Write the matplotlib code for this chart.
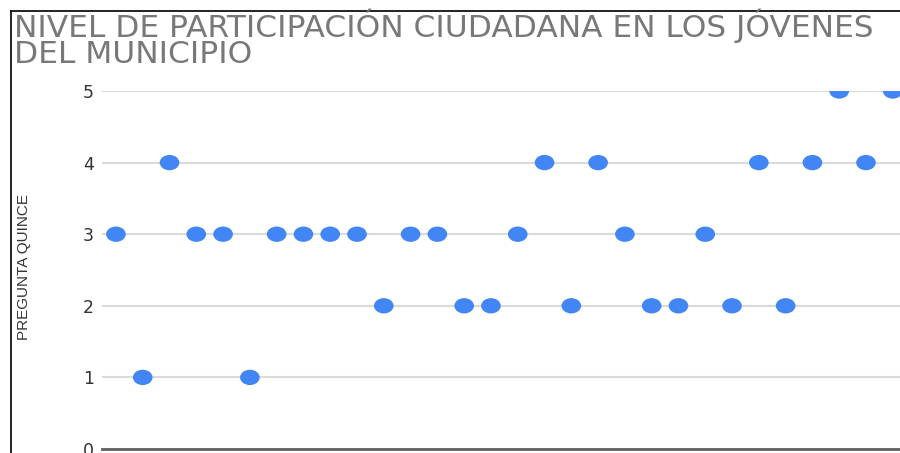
import matplotlib.pyplot as plt
from matplotlib.lines import Line2D
from matplotlib.markers import MarkerStyle
from matplotlib.path import Path
from matplotlib.transforms import Affine2D

plt.rcParams['font.family'] = ['Liberation Sans', 'DejaVu Sans']

# respuestas de la pregunta quince, una por encuestado
respuestas = [3, 1, 4, 3, 3, 1, 3, 3, 3, 3,
              2, 3, 3, 2, 2, 3, 4, 2, 4, 3,
              2, 2, 3, 2, 4, 2, 4, 5, 4, 5]
encuestado = list(range(len(respuestas)))
y_ticks = [0, 1, 2, 3, 4, 5]

titulo_1 = "NIVEL DE PARTICIPACIÓN CIUDADANA EN LOS JÓVENES"
titulo_2 = "DEL MUNICIPIO"
eje_y = "PREGUNTA QUINCE"

W, H = 900, 453
fig = plt.figure(figsize=(W / 100, H / 100), dpi=100)
ax = fig.add_axes([102 / W, 1 - 449 / H, (900 - 102) / W, (449 - 91) / H])

# marcador eliptico (mas ancho que alto)
oval = MarkerStyle(Path.unit_circle().transformed(Affine2D().scale(1.0, 0.78)))
ax.scatter(encuestado, respuestas, marker=oval, s=200, color='#4285f4',
           edgecolors='none', zorder=3)

ax.set_xlim(-0.52, 29.27)
ax.set_ylim(0, 5)
ax.set_yticks(y_ticks)
ax.set_xticks([])
ax.grid(axis='y', color='#dadada', linewidth=1.5)
ax.set_axisbelow(True)
for s in ['top', 'right', 'left']:
    ax.spines[s].set_visible(False)
ax.spines['bottom'].set_color('#5f5f5f')
ax.spines['bottom'].set_linewidth(2)
ax.spines['bottom'].set_zorder(4)
ax.tick_params(axis='y', length=0, pad=6, labelsize=12.5, labelcolor='#333333')
for lbl in ax.get_yticklabels():
    lbl.set_family('DejaVu Sans')

fig.text(24 / W, 1 - 267 / H, eje_y, rotation=90, ha='center', va='center',
         fontsize=11, color='#333333')

t1 = fig.text(14 / W, 1 - 37 / H, titulo_1, fontsize=19, color='#787878',
              ha='left', va='baseline', family='DejaVu Sans')
t2 = fig.text(14 / W, 1 - 63 / H, titulo_2, fontsize=19, color='#787878',
              ha='left', va='baseline', family='DejaVu Sans')

# ajustar el tamano del titulo para que ocupe el ancho disponible
r = fig.canvas.get_renderer()
ancho = t1.get_window_extent(r).width
size = 19 * 858 / ancho
t1.set_fontsize(size)
t2.set_fontsize(size)

# marco superior e izquierdo
fig.add_artist(Line2D([11 / W, 1], [1 - 10.5 / H, 1 - 10.5 / H],
                      color='#111111', linewidth=1.3))
fig.add_artist(Line2D([11 / W, 11 / W], [0, 1 - 10.5 / H],
                      color='#111111', linewidth=1.3))

fig.savefig('out.png', dpi=100)
